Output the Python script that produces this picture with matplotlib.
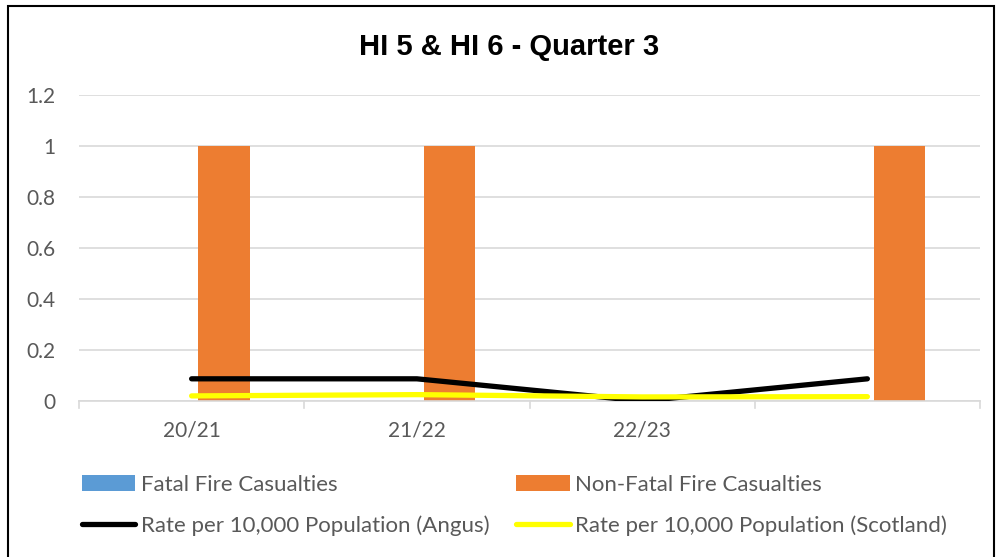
import matplotlib.pyplot as plt
from matplotlib.patches import Rectangle
import numpy as np

# Data
categories = ['20/21', '21/22', '22/23', '']
fatal = [0, 0, 0, 0]
non_fatal = [1, 1, 0, 1]
rate_angus = [0.087, 0.087, 0.0, 0.087]
rate_scotland = [0.02, 0.025, 0.016, 0.017]
yticks = [0, 0.2, 0.4, 0.6, 0.8, 1, 1.2]
ytick_labels = ['0', '0.2', '0.4', '0.6', '0.8', '1', '1.2']

W, H = 997, 557
fig = plt.figure(figsize=(W / 100, H / 100), dpi=100)
ax = fig.add_axes([79 / W, (H - 401) / H, (980 - 79) / W, (401 - 95) / H])

x = np.arange(len(categories))
bw = 0.227
ax.bar(x - 0.083, fatal, width=bw, color='#5B9BD5', label='Fatal Fire Casualties', zorder=2)
ax.bar(x + 0.144, non_fatal, width=bw, color='#ED7D31', label='Non-Fatal Fire Casualties', zorder=2)
ax.plot(x, rate_angus, color='black', lw=3.8, solid_capstyle='round',
        label='Rate per 10,000 Population (Angus)', zorder=3)
ax.plot(x, rate_scotland, color='#FFFF00', lw=3.8, solid_capstyle='round',
        label='Rate per 10,000 Population (Scotland)', zorder=3)

ax.set_xlim(-0.5, len(categories) - 0.5)
ax.set_ylim(0, 1.2)
ax.set_yticks(yticks)
ax.set_yticklabels(ytick_labels)
ax.set_xticks(x)
ax.set_xticklabels(categories)
ax.tick_params(axis='y', length=0, pad=17, labelsize=15, labelcolor='#595959')
ax.tick_params(axis='x', length=0, pad=14, labelsize=15, labelcolor='#595959')
for lab in ax.get_xticklabels() + ax.get_yticklabels():
    lab.set_fontfamily('Lato')
ax.grid(axis='y', color='#D9D9D9', lw=1.2, zorder=0)
for s in ['top', 'right', 'left']:
    ax.spines[s].set_visible(False)
ax.spines['bottom'].set_color('#D9D9D9')
ax.spines['bottom'].set_linewidth(1.2)
# category boundary ticks
for b in np.arange(-0.5, len(categories), 1):
    ax.plot([b, b], [0, -0.028], color='#D9D9D9', lw=1.2, clip_on=False, zorder=1)

fig.text(509 / W, 1 - 47 / H, 'HI 5 & HI 6 - Quarter 3', ha='center', va='center',
         fontsize=21, fontweight='bold', family='Liberation Sans')

# legend: lines come first in the handle list, bars after
h, l = ax.get_legend_handles_labels()
order = [2, 0, 3, 1]
fig.legend([h[i] for i in order], [l[i] for i in order], ncol=2, loc='upper left',
           bbox_to_anchor=(82 / W, 1 - 475 / H), frameon=False,
           prop={'family': 'Lato', 'size': 16}, labelcolor='#595959',
           handlelength=2.4, handletextpad=0.25, columnspacing=1.2, labelspacing=0.9,
           borderpad=0, borderaxespad=0)

fig.add_artist(Rectangle((8 / W, -0.05), (994 - 8) / W, 1.05 - 6 / H,
                         transform=fig.transFigure, fill=False, edgecolor='black', lw=1.5))

fig.savefig('out.png', dpi=100)
